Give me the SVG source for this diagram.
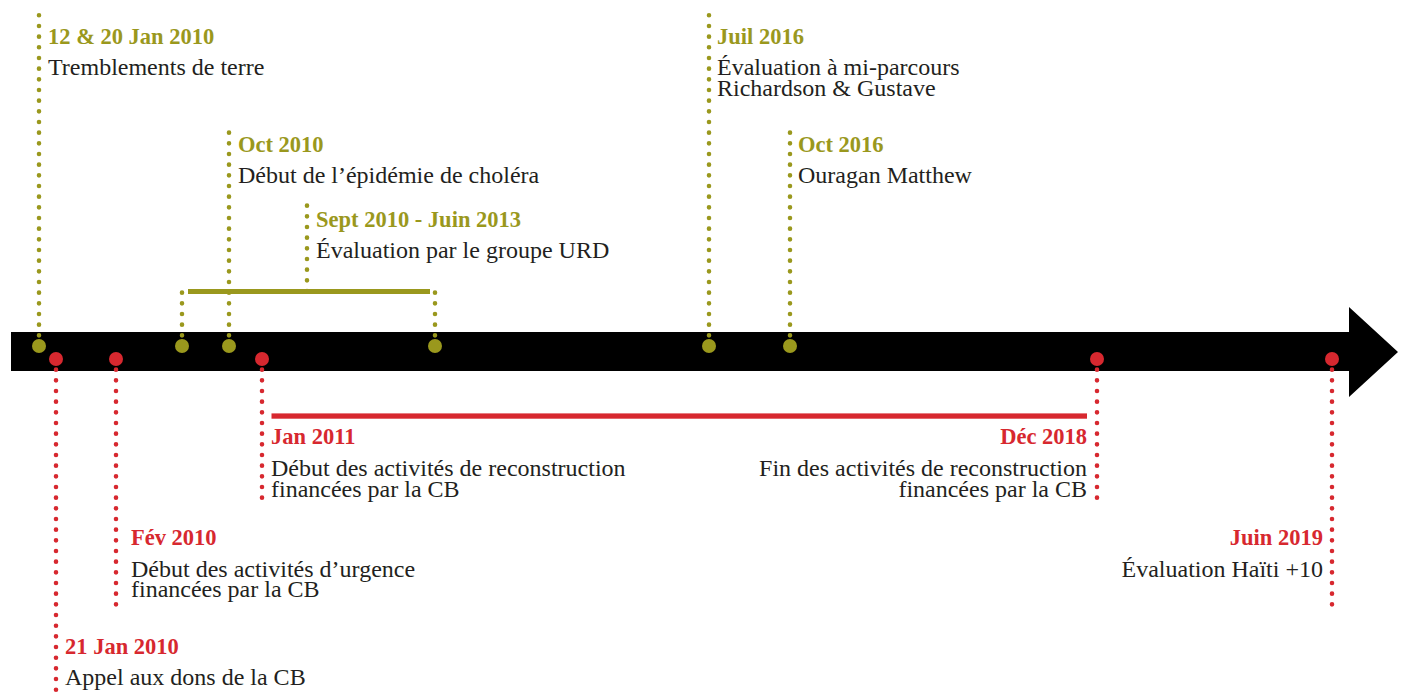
<svg xmlns="http://www.w3.org/2000/svg" width="1402" height="695" viewBox="0 0 1402 695">
<style>
  .t { font-family: "Liberation Serif", "Times New Roman", serif; font-size: 24px; fill: #231f20; }
  .ho { font-family: "Liberation Serif", "Times New Roman", serif; font-size: 22.5px; font-weight: bold; fill: #9a981d; }
  .hr { font-family: "Liberation Serif", "Times New Roman", serif; font-size: 22.5px; font-weight: bold; fill: #d7282f; }
  .end { text-anchor: end; }
  .do { fill: none; stroke: #9a981d; stroke-width: 4.6; stroke-linecap: round; stroke-dasharray: 0 10.667; }
  .dr { fill: none; stroke: #d7282f; stroke-width: 4.6; stroke-linecap: round; stroke-dasharray: 0 10.667; }
  .co { fill: #9a981d; }
  .cr { fill: #d7282f; }
</style>
<rect width="1402" height="695" fill="#ffffff"/>

<g id="axis">
  <polygon points="11,332 1349,332 1349,307 1398,352 1349,397 1349,371 11,371" fill="#000000"/>
</g>

<g id="connectors">
  <path class="do" d="M39,346 V15.3"/>
  <path class="do" d="M229,346 V128"/>
  <path class="do" d="M182,346 V292"/>
  <path class="do" d="M435,346 V292"/>
  <path class="do" d="M307,291 V205"/>
  <path class="do" d="M709,346 V15.3"/>
  <path class="do" d="M790,346 V128"/>
  <path class="dr" d="M56,359 V700"/>
  <path class="dr" d="M116,359 V607"/>
  <path class="dr" d="M262,359 V508"/>
  <path class="dr" d="M1097,359 V508"/>
  <path class="dr" d="M1332,359 V607"/>
  <rect x="188" y="289" width="242" height="5" fill="#9a981d"/>
  <rect x="271.5" y="413.4" width="815.5" height="5.3" fill="#d7282f"/>
</g>

<g id="markers">
  <circle class="co" cx="39" cy="346" r="7"/>
  <circle class="co" cx="182" cy="346" r="7"/>
  <circle class="co" cx="229" cy="346" r="7"/>
  <circle class="co" cx="435" cy="346" r="7"/>
  <circle class="co" cx="709" cy="346" r="7"/>
  <circle class="co" cx="790" cy="346" r="7"/>
  <circle class="cr" cx="56" cy="359" r="7"/>
  <circle class="cr" cx="116" cy="359" r="7"/>
  <circle class="cr" cx="262" cy="359" r="7"/>
  <circle class="cr" cx="1097" cy="359" r="7"/>
  <circle class="cr" cx="1332" cy="359" r="7"/>
</g>

<g id="ev-earthquake">
  <text class="ho" x="48" y="43.5">12 &amp; 20 Jan 2010</text>
  <text class="t" x="48" y="75">Tremblements de terre</text>
</g>
<g id="ev-cholera">
  <text class="ho" x="238" y="151.7">Oct 2010</text>
  <text class="t" x="238" y="183.3">Début de l’épidémie de choléra</text>
</g>
<g id="ev-urd">
  <text class="ho" x="316" y="227">Sept 2010 - Juin 2013</text>
  <text class="t" x="316" y="258">Évaluation par le groupe URD</text>
</g>
<g id="ev-midterm">
  <text class="ho" x="717" y="43.5">Juil 2016</text>
  <text class="t" x="717" y="75">Évaluation à mi-parcours</text>
  <text class="t" x="717" y="95.5">Richardson &amp; Gustave</text>
</g>
<g id="ev-matthew">
  <text class="ho" x="798" y="151.7">Oct 2016</text>
  <text class="t" x="798" y="183.3">Ouragan Matthew</text>
</g>
<g id="ev-reconstruction-start">
  <text class="hr" x="271" y="444">Jan 2011</text>
  <text class="t" x="271" y="476">Début des activités de reconstruction</text>
  <text class="t" x="271" y="496.5">financées par la CB</text>
</g>
<g id="ev-reconstruction-end">
  <text class="hr end" x="1087" y="444">Déc 2018</text>
  <text class="t end" x="1087" y="476">Fin des activités de reconstruction</text>
  <text class="t end" x="1087" y="496.5">financées par la CB</text>
</g>
<g id="ev-emergency">
  <text class="hr" x="131" y="545">Fév 2010</text>
  <text class="t" x="131" y="576.5">Début des activités d’urgence</text>
  <text class="t" x="131" y="597">financées par la CB</text>
</g>
<g id="ev-haiti10">
  <text class="hr end" x="1323" y="545">Juin 2019</text>
  <text class="t end" x="1323" y="576.5">Évaluation Haïti +10</text>
</g>
<g id="ev-appeal">
  <text class="hr" x="65" y="653.5">21 Jan 2010</text>
  <text class="t" x="65" y="685">Appel aux dons de la CB</text>
</g>
</svg>
